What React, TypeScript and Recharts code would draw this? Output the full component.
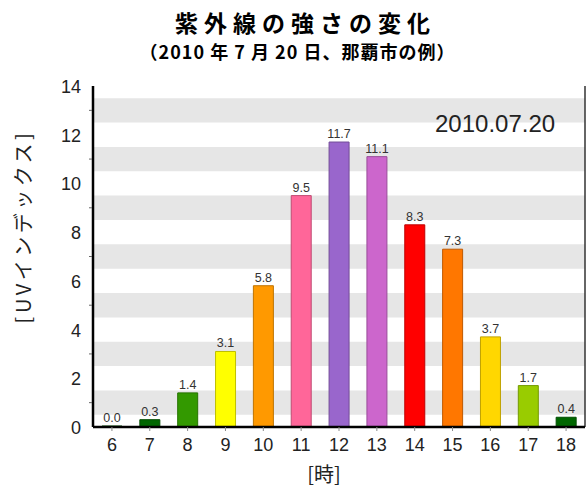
import { BarChart, Bar, XAxis, YAxis, Cell, LabelList, ReferenceArea } from 'recharts';

const hours = ['6', '7', '8', '9', '10', '11', '12', '13', '14', '15', '16', '17', '18'];
const uvIndex = [0.0, 0.3, 1.4, 3.1, 5.8, 9.5, 11.7, 11.1, 8.3, 7.3, 3.7, 1.7, 0.4];
const barColors = [
  '#006600', '#006600', '#339900', '#ffff00', '#ff9900', '#ff6699', '#9966cc',
  '#cc66cc', '#ff0000', '#ff7700', '#ffd700', '#99cc00', '#006600',
];
const yTicks = [0, 1, 2, 3, 4, 5, 6, 7, 8, 9, 10, 11, 12, 13, 14];
const bands = [[0.5, 1.5], [2.5, 3.5], [4.5, 5.5], [6.5, 7.5], [8.5, 9.5], [10.5, 11.5], [12.5, 13.5]];

const data = hours.map((h, i) => ({ hour: h, uv: uvIndex[i], color: barColors[i] }));

const SANS = '"Liberation Sans", Arial, sans-serif';
const JP = '"Noto Sans CJK JP", sans-serif';

function YTick(props: any) {
  const { x, y, payload } = props;
  const v = payload.value;
  if (v % 2 === 1) {
    return <line x1={x + 13} x2={x + 16} y1={y} y2={y} stroke="#666" strokeWidth={1} />;
  }
  return (
    <text x={x + 5} y={y} dy={7} textAnchor="end" fontSize={18} fill="#222" fontFamily={SANS}>
      {v}
    </text>
  );
}

function XTick(props: any) {
  const { x, y, payload } = props;
  return (
    <text x={x} y={y} dy={18} textAnchor="middle" fontSize={18} fill="#222" fontFamily={SANS}>
      {payload.value}
    </text>
  );
}

function darker(c: string) {
  const n = parseInt(c.slice(1), 16);
  const r = Math.round(((n >> 16) & 255) * 0.75);
  const g = Math.round(((n >> 8) & 255) * 0.75);
  const b = Math.round((n & 255) * 0.75);
  return `rgb(${r},${g},${b})`;
}

export default function App() {
  return (
    <div style={{ position: 'absolute', left: 0, top: 0, width: 587, height: 492, background: '#fff' }}>
      <div
        style={{
          position: 'absolute', left: 0, width: 587, top: 5, textAlign: 'center', paddingLeft: 24,
          boxSizing: 'border-box', fontFamily: JP, fontWeight: 700, fontSize: 23, letterSpacing: 6, color: '#000',
        }}
      >
        紫外線の強さの変化
      </div>
      <div
        style={{
          position: 'absolute', left: 0, width: 587, top: 38, textAlign: 'center', paddingLeft: 8,
          boxSizing: 'border-box', fontFamily: JP, fontWeight: 700, fontSize: 18, letterSpacing: 1, color: '#000',
        }}
      >
        （2010 年 7 月 20 日、那覇市の例）
      </div>
      <BarChart width={587} height={492} data={data} margin={{ top: 86, right: 0, bottom: 0, left: 0 }}>
        {bands.map((b, i) => (
          <ReferenceArea key={i} y1={b[0]} y2={b[1]} fill="#e6e6e6" fillOpacity={1} stroke="none" ifOverflow="visible" />
        ))}
        <XAxis xAxisId="top" orientation="top" dataKey="hour" height={0} tick={false} tickLine={false} axisLine={{ stroke: '#333', strokeWidth: 1.5 }} />
        <YAxis yAxisId="r" orientation="right" width={2} tick={false} tickLine={false} domain={[0, 14]} axisLine={{ stroke: '#333', strokeWidth: 1.5 }} />
        <XAxis
          dataKey="hour"
          height={65}
          tick={<XTick />}
          tickSize={4}
          tickLine={{ stroke: '#888' }}
          axisLine={{ stroke: '#000', strokeWidth: 2.5 }}
          interval={0}
          label={{
            content: ({ viewBox }: any) => (
              <text x={viewBox.x + viewBox.width / 2 - 15} y={viewBox.y + 55} textAnchor="middle" fontSize={20} fontFamily={JP} fill="#222">
                [時]
              </text>
            ),
          }}
        />
        <YAxis
          width={93}
          domain={[0, 14]}
          ticks={yTicks}
          interval={0}
          tick={<YTick />}
          tickLine={false}
          tickMargin={11}
          axisLine={{ stroke: '#000', strokeWidth: 2.5 }}
          label={{
            content: ({ viewBox }: any) => {
              const cx = 24;
              const cy = viewBox.y + viewBox.height / 2 - 30;
              return (
                <text x={cx} y={cy} transform={`rotate(-90 ${cx} ${cy})`} dy={7} textAnchor="middle" fontSize={20} letterSpacing={3.5} fontFamily={JP} fill="#222">
                  [UVインデックス]
                </text>
              );
            },
          }}
        />
        <Bar dataKey="uv" barSize={20} minPointSize={1} isAnimationActive={false}>
          {data.map((d, i) => (
            <Cell key={i} fill={d.color} stroke={darker(d.color)} strokeWidth={1} />
          ))}
          <LabelList dataKey="uv" position="top" offset={4} fontSize={12.5} fill="#333" fontFamily={SANS} formatter={(v: any) => Number(v).toFixed(1)} />
        </Bar>
      </BarChart>
      <div style={{ position: 'absolute', left: 435, top: 110, fontFamily: SANS, fontSize: 24, color: '#222' }}>2010.07.20</div>
    </div>
  );
}
